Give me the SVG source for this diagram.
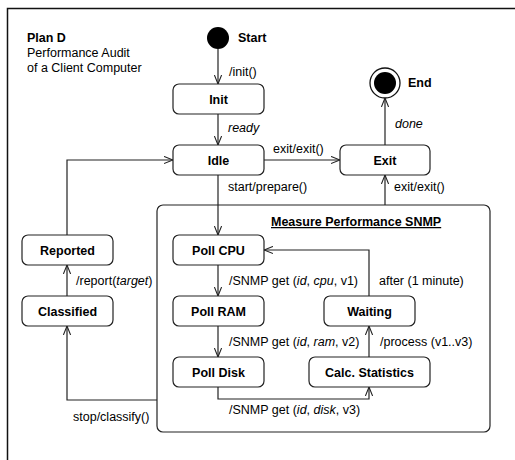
<svg xmlns="http://www.w3.org/2000/svg" width="515" height="460" viewBox="0 0 515 460">
<style>
text{font-family:"Liberation Sans",Arial,Helvetica,sans-serif;font-size:12.5px;fill:#000}
.b{font-weight:bold}
.n{text-anchor:middle;font-weight:bold}
.i{font-style:italic}
.box{fill:#fff;stroke:#222;stroke-width:1.2}
.c{fill:none;stroke:#222;stroke-width:1.2}
</style>
<defs>
<marker id="a" markerUnits="userSpaceOnUse" viewBox="0 0 10 10" refX="10" refY="5" markerWidth="9" markerHeight="9" orient="auto">
<path d="M0,1 L10,5 L0,9" fill="none" stroke="#222" stroke-width="1.2"/>
</marker>
</defs>
<rect x="7.5" y="8.5" width="560" height="500" fill="#fff" stroke="#111" stroke-width="1.5"/>
<g id="title">
<text class="b" x="27" y="42">Plan D</text>
<text x="27" y="57">Performance Audit</text>
<text x="27" y="72">of a Client Computer</text>
</g>
<g id="composite">
<rect class="box" x="157" y="205" width="333" height="227" rx="6" stroke="#444"/>
<text class="b" x="271" y="226" text-decoration="underline">Measure Performance SNMP</text>
</g>
<g id="start">
<circle cx="218" cy="38" r="11" fill="#000"/>
<text class="b" x="238" y="42">Start</text>
</g>
<g id="end">
<circle cx="385" cy="83" r="15" fill="#fff" stroke="#111" stroke-width="1.3"/>
<circle cx="385" cy="83" r="11" fill="#000"/>
<text class="b" x="408" y="87">End</text>
</g>
<g id="init"><rect class="box" x="173" y="84" width="91" height="30" rx="6"/><text class="n" x="218.5" y="103.5">Init</text></g>
<g id="idle"><rect class="box" x="173" y="145" width="91" height="30" rx="6"/><text class="n" x="218.5" y="164.5">Idle</text></g>
<g id="exit"><rect class="box" x="340" y="145" width="90" height="30" rx="6"/><text class="n" x="385" y="164.5">Exit</text></g>
<g id="reported"><rect class="box" x="22" y="235" width="91" height="30" rx="6"/><text class="n" x="67.5" y="254.5">Reported</text></g>
<g id="classified"><rect class="box" x="22" y="296" width="91" height="30" rx="6"/><text class="n" x="67.5" y="315.5">Classified</text></g>
<g id="pollcpu"><rect class="box" x="173" y="235" width="91" height="30" rx="6"/><text class="n" x="218.5" y="254.5">Poll CPU</text></g>
<g id="pollram"><rect class="box" x="173" y="296" width="91" height="30" rx="6"/><text class="n" x="218.5" y="315.5">Poll RAM</text></g>
<g id="polldisk"><rect class="box" x="173" y="357" width="91" height="30" rx="6"/><text class="n" x="218.5" y="376.5">Poll Disk</text></g>
<g id="waiting"><rect class="box" x="324" y="296" width="91" height="30" rx="6"/><text class="n" x="369.5" y="315.5">Waiting</text></g>
<g id="calc"><rect class="box" x="309" y="357" width="121" height="30" rx="6"/><text class="n" x="369.5" y="376.5">Calc. Statistics</text></g>
<g id="connectors">
<path class="c" d="M218,49 V84" marker-end="url(#a)"/>
<text x="229" y="76">/init()</text>
<path class="c" d="M218,114 V145" marker-end="url(#a)"/>
<text class="i" x="228" y="132">ready</text>
<path class="c" d="M264,160 H340" marker-end="url(#a)"/>
<text x="273" y="153">exit/exit()</text>
<path class="c" d="M385,145 V98" marker-end="url(#a)"/>
<text class="i" x="395" y="128">done</text>
<path class="c" d="M385,205 V175" marker-end="url(#a)"/>
<text x="394" y="191">exit/exit()</text>
<path class="c" d="M218,175 V235" marker-end="url(#a)"/>
<text x="228" y="191">start/prepare()</text>
<path class="c" d="M67,235 V160 H173" marker-end="url(#a)"/>
<path class="c" d="M67,296 V265" marker-end="url(#a)"/>
<text x="76" y="285">/report(<tspan class="i">target</tspan>)</text>
<path class="c" d="M157,400 H67 V326" marker-end="url(#a)"/>
<text x="73" y="421">stop/classify()</text>
<path class="c" d="M218,265 V296" marker-end="url(#a)"/>
<text x="229" y="285">/SNMP get (<tspan class="i">id</tspan>, <tspan class="i">cpu</tspan>, v1)</text>
<path class="c" d="M218,326 V357" marker-end="url(#a)"/>
<text x="229" y="346">/SNMP get (<tspan class="i">id</tspan>, <tspan class="i">ram</tspan>, v2)</text>
<path class="c" d="M218,387 V399 H369 V387" marker-end="url(#a)"/>
<text x="229" y="414">/SNMP get (<tspan class="i">id</tspan>, <tspan class="i">disk</tspan>, v3)</text>
<path class="c" d="M369,357 V326" marker-end="url(#a)"/>
<text x="380" y="346">/process (v1..v3)</text>
<path class="c" d="M369,296 V250 H264" marker-end="url(#a)"/>
<text x="379" y="285">after (1 minute)</text>
</g>
</svg>
